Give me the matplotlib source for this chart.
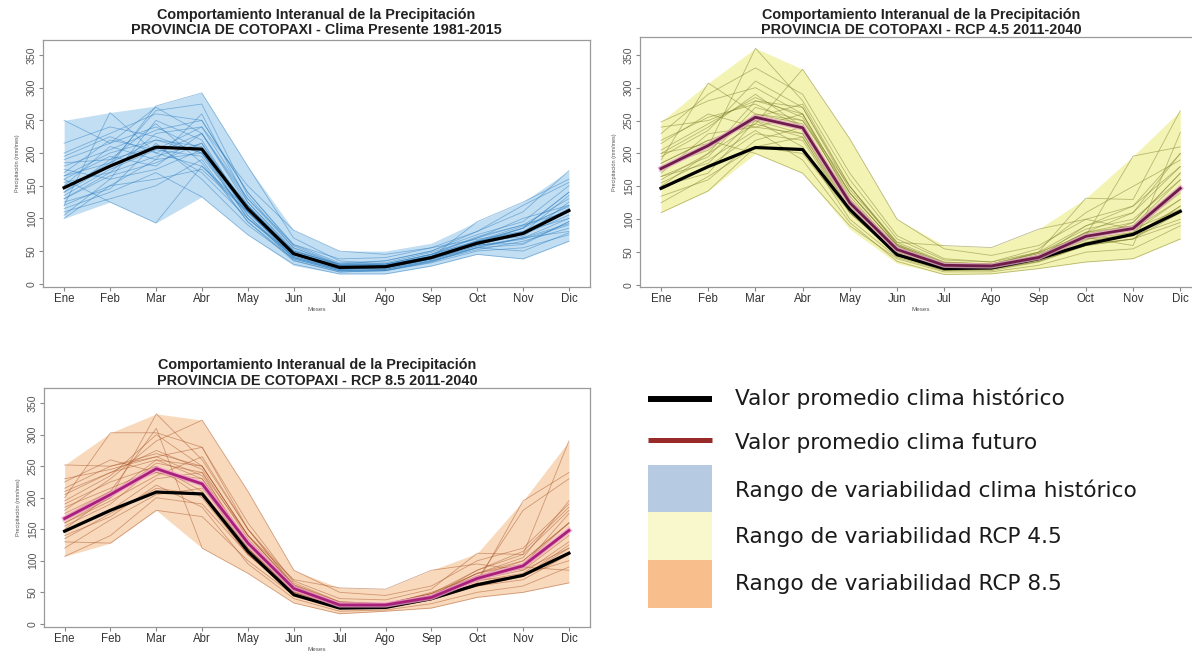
import numpy as np
import matplotlib
matplotlib.use('Agg')
import matplotlib.pyplot as plt
from matplotlib.patches import Rectangle

meses = ['Ene', 'Feb', 'Mar', 'Abr', 'May', 'Jun', 'Jul', 'Ago', 'Sep', 'Oct', 'Nov', 'Dic']

# promedios (mm/mes)
hist_media = [147, 180, 209, 206, 115, 46, 25, 26, 40, 62, 77, 112]
rcp45_media = [177, 212, 255, 239, 125, 54, 30, 29, 42, 74, 86, 147]
rcp85_media = [167, 205, 246, 222, 128, 56, 30, 30, 42, 72, 92, 148]

# rangos de variabilidad
hist_sup = [250, 262, 272, 292, 180, 82, 50, 50, 62, 95, 125, 173]
hist_inf = [100, 125, 93, 133, 75, 28, 15, 15, 27, 45, 38, 65]
rcp45_sup = [248, 307, 360, 328, 222, 100, 60, 57, 85, 132, 196, 265]
rcp45_inf = [110, 143, 200, 170, 85, 33, 16, 17, 25, 35, 40, 70]
rcp85_sup = [252, 303, 333, 323, 210, 85, 57, 55, 85, 112, 195, 290]
rcp85_inf = [107, 128, 180, 120, 80, 33, 16, 20, 25, 42, 50, 65]

# series anuales / modelos
hist_series = [
    [250, 215, 240, 205, 120, 50, 30, 28, 42, 60, 75, 110],
    [120, 262, 200, 230, 130, 55, 28, 30, 45, 70, 90, 130],
    [160, 125, 93, 180, 110, 40, 22, 24, 38, 55, 60, 95],
    [140, 180, 272, 292, 180, 70, 35, 30, 45, 65, 85, 120],
    [100, 150, 190, 200, 100, 40, 20, 20, 35, 55, 70, 100],
    [200, 230, 260, 250, 140, 60, 32, 35, 50, 75, 95, 150],
    [185, 190, 210, 170, 100, 45, 24, 22, 38, 58, 70, 80],
    [130, 170, 230, 240, 150, 82, 50, 45, 55, 80, 110, 173],
    [115, 140, 170, 133, 75, 30, 15, 15, 27, 45, 38, 65],
    [165, 200, 220, 210, 120, 48, 26, 28, 42, 65, 80, 115],
    [150, 210, 190, 260, 125, 52, 28, 30, 40, 60, 75, 105],
    [175, 160, 250, 220, 110, 42, 22, 25, 38, 62, 85, 140],
    [110, 130, 150, 190, 95, 35, 18, 20, 32, 50, 55, 75],
    [195, 225, 200, 180, 115, 50, 30, 32, 48, 70, 100, 120],
    [145, 185, 265, 275, 135, 55, 30, 30, 45, 72, 90, 110],
    [135, 175, 205, 195, 105, 40, 22, 22, 36, 58, 68, 90],
    [160, 195, 180, 230, 120, 45, 25, 28, 42, 65, 72, 125],
    [125, 145, 215, 160, 90, 38, 20, 22, 35, 52, 65, 85],
    [180, 205, 235, 250, 140, 58, 30, 35, 50, 80, 120, 155],
    [105, 160, 175, 205, 100, 42, 24, 25, 38, 60, 62, 95],
    [215, 240, 225, 200, 120, 48, 26, 27, 40, 62, 78, 110],
    [155, 170, 195, 215, 115, 46, 25, 26, 40, 95, 125, 160],
    [140, 190, 245, 185, 95, 38, 20, 20, 33, 55, 50, 78],
    [170, 220, 205, 240, 130, 60, 38, 40, 55, 68, 80, 100],
    [120, 150, 160, 175, 110, 44, 26, 24, 38, 60, 78, 135],
    [190, 215, 270, 230, 125, 50, 28, 28, 44, 66, 88, 118],
    [130, 165, 185, 215, 105, 36, 18, 20, 34, 56, 70, 92],
    [165, 185, 220, 200, 110, 45, 24, 26, 40, 64, 85, 140],
]

rcp45_series = [
    [248, 280, 300, 260, 140, 60, 32, 30, 45, 80, 95, 170],
    [110, 143, 210, 200, 110, 45, 22, 22, 35, 60, 70, 120],
    [190, 307, 260, 250, 150, 65, 35, 32, 48, 85, 100, 160],
    [175, 210, 360, 280, 160, 70, 38, 35, 50, 90, 110, 200],
    [160, 200, 245, 328, 222, 100, 55, 45, 60, 100, 120, 180],
    [200, 240, 290, 240, 130, 55, 30, 28, 42, 75, 85, 140],
    [145, 180, 230, 220, 110, 48, 25, 25, 38, 65, 80, 130],
    [230, 290, 330, 290, 170, 75, 40, 35, 55, 110, 150, 190],
    [185, 220, 200, 170, 90, 40, 20, 20, 30, 50, 55, 90],
    [165, 195, 270, 250, 140, 60, 32, 30, 45, 80, 90, 150],
    [215, 260, 240, 260, 130, 55, 30, 30, 44, 75, 196, 210],
    [150, 170, 250, 210, 100, 42, 22, 24, 36, 60, 70, 110],
    [240, 250, 280, 270, 150, 62, 34, 32, 50, 132, 130, 265],
    [170, 230, 240, 230, 120, 50, 28, 26, 40, 70, 80, 145],
    [135, 160, 220, 240, 130, 58, 32, 30, 45, 78, 90, 160],
    [195, 235, 310, 270, 145, 65, 60, 57, 85, 100, 85, 130],
    [180, 205, 260, 245, 125, 50, 26, 26, 40, 72, 60, 232],
    [155, 190, 235, 190, 95, 36, 16, 17, 25, 35, 40, 70],
    [205, 245, 285, 255, 135, 55, 30, 28, 42, 80, 110, 180],
    [125, 165, 210, 225, 115, 45, 24, 24, 38, 64, 75, 100],
    [220, 255, 275, 240, 125, 52, 28, 28, 42, 90, 120, 200],
    [165, 185, 255, 275, 150, 62, 34, 32, 48, 70, 75, 120],
    [185, 220, 245, 225, 110, 46, 25, 26, 40, 68, 95, 170],
    [150, 200, 280, 260, 140, 60, 30, 30, 50, 75, 85, 115],
    [200, 215, 250, 230, 115, 48, 26, 24, 36, 62, 70, 95],
]

rcp85_series = [
    [252, 250, 270, 250, 140, 60, 32, 30, 45, 75, 100, 160],
    [107, 140, 200, 190, 110, 48, 25, 25, 38, 60, 75, 120],
    [200, 303, 303, 280, 160, 65, 35, 32, 48, 85, 110, 180],
    [160, 200, 333, 260, 150, 60, 32, 30, 45, 80, 95, 150],
    [180, 230, 290, 323, 210, 85, 50, 45, 60, 100, 120, 190],
    [130, 128, 180, 170, 100, 45, 24, 25, 38, 60, 70, 110],
    [210, 240, 260, 230, 130, 55, 30, 30, 42, 75, 90, 150],
    [170, 210, 310, 120, 80, 33, 16, 20, 25, 42, 50, 65],
    [190, 225, 250, 210, 120, 50, 28, 28, 40, 70, 85, 140],
    [145, 180, 230, 240, 140, 62, 35, 32, 48, 80, 100, 160],
    [225, 260, 240, 220, 115, 48, 26, 26, 38, 65, 195, 240],
    [155, 190, 250, 200, 110, 50, 27, 28, 40, 68, 80, 130],
    [230, 245, 265, 280, 150, 68, 40, 38, 55, 112, 110, 290],
    [175, 210, 240, 230, 125, 55, 30, 30, 44, 72, 88, 145],
    [120, 165, 205, 215, 130, 56, 30, 30, 44, 76, 92, 175],
    [195, 235, 300, 250, 140, 70, 57, 55, 85, 95, 85, 120],
    [165, 200, 255, 240, 120, 50, 28, 28, 42, 70, 180, 230],
    [140, 170, 220, 185, 95, 40, 20, 22, 32, 50, 60, 90],
    [205, 240, 275, 245, 135, 58, 32, 30, 45, 80, 105, 195],
    [135, 175, 215, 205, 110, 46, 25, 26, 40, 64, 78, 100],
    [215, 250, 265, 235, 130, 55, 30, 30, 44, 85, 115, 185],
    [160, 195, 235, 265, 150, 62, 34, 32, 48, 70, 75, 125],
    [185, 215, 245, 220, 120, 52, 28, 28, 42, 72, 95, 160],
    [150, 205, 260, 250, 140, 60, 30, 30, 50, 75, 90, 85],
]

leyenda_textos = ['Valor promedio clima histórico', 'Valor promedio clima futuro',
                  'Rango de variabilidad clima histórico', 'Rango de variabilidad RCP 4.5',
                  'Rango de variabilidad RCP 8.5']

W, H = 1192, 654
FUENTE = ['Liberation Sans', 'DejaVu Sans']


def caja(izq, der, arriba, abajo):
    # rectangulo en pixeles -> fracciones de figura
    return [izq / W, 1 - abajo / H, (der - izq) / W, (abajo - arriba) / H]


def dibujar_panel(fig, pos, series, sup, inf, relleno, color_lineas,
                  titulo, y_titulo, xlim, ylim, media_fut=None, color_fut=None, halo_fut=None):
    ax = fig.add_axes(caja(*pos))
    x = np.arange(len(meses))

    ax.fill_between(x, inf, sup, color=relleno, alpha=0.7, lw=0, zorder=1)
    for s in series:
        ax.plot(x, s, color=color_lineas, lw=0.6, alpha=0.5, zorder=2)

    ax.plot(x, hist_media, color='black', lw=2.3, zorder=4)
    if media_fut is not None:
        ax.plot(x, media_fut, color=halo_fut, lw=3.8, alpha=0.8, zorder=5)
        ax.plot(x, media_fut, color=color_fut, lw=2.0, zorder=6)

    ax.set_xlim(*xlim)
    ax.set_ylim(*ylim)
    ax.set_xticks(x)
    ax.set_xticklabels(meses, fontsize=8.3, family=FUENTE, color='#333333')
    ax.set_yticks(np.arange(0, 351, 50))
    ax.set_yticklabels([str(v) for v in range(0, 351, 50)], fontsize=7.6,
                       family=FUENTE, color='#555555', rotation=90, va='center')
    ax.tick_params(direction='out', length=3, width=0.8, color='#888888', pad=1.5)
    for sp in ax.spines.values():
        sp.set_color('#9a9a9a')
        sp.set_linewidth(0.9)
    ax.set_xlabel('Meses', fontsize=4.5, family=FUENTE, color='#555555', labelpad=1.5)
    ax.set_ylabel('Precipitación (mm/mes)', fontsize=4, family=FUENTE, color='#555555', labelpad=5)

    cx = (pos[0] + min(pos[1], 1202)) / 2
    for linea, yy in zip(titulo, y_titulo):
        fig.text(cx / W, 1 - yy / H, linea, ha='center', va='center',
                 fontsize=10.4, fontweight='bold', family=FUENTE, color='#222222')
    return ax


fig = plt.figure(figsize=(W / 100, H / 100), dpi=100)
fig.patch.set_facecolor('white')

tit1 = 'Comportamiento Interanual de la Precipitación'

dibujar_panel(fig, (43, 590, 40, 287), hist_series, hist_sup, hist_inf,
              '#a8d0ef', '#2f7fc0',
              (tit1, 'PROVINCIA DE COTOPAXI - Clima Presente 1981-2015'), (15, 30),
              (-0.46, 11.46), (-5, 373))

dibujar_panel(fig, (640, 1202, 37, 287), rcp45_series, rcp45_sup, rcp45_inf,
              '#efef94', '#7d7d28',
              (tit1, 'PROVINCIA DE COTOPAXI - RCP 4.5 2011-2040'), (15, 30),
              (-0.445, 11.46), (-3, 377),
              media_fut=rcp45_media, color_fut='#6e1d48', halo_fut='#e3a3c8')

dibujar_panel(fig, (44, 590, 388, 627), rcp85_series, rcp85_sup, rcp85_inf,
              '#f7caa0', '#a8552a',
              (tit1, 'PROVINCIA DE COTOPAXI - RCP 8.5 2011-2040'), (365, 381),
              (-0.45, 11.46), (-5, 374),
              media_fut=rcp85_media, color_fut='#a8207a', halo_fut='#f0a0d0')

# leyenda dibujada a mano en coordenadas de pixel
lg = fig.add_axes([0, 0, 1, 1])
lg.set_xlim(0, W)
lg.set_ylim(H, 0)
lg.axis('off')
lg.plot([648, 712], [399, 399], color='black', lw=4.3, solid_capstyle='butt')
lg.plot([648, 712], [440, 440], color='#982a2a', lw=3.6, solid_capstyle='butt')
for y0, col in zip([465, 512, 560], ['#b6cae2', '#f9f8cd', '#f8bf8c']):
    lg.add_patch(Rectangle((648, y0), 64, 48, facecolor=col, edgecolor='none'))
for t, yy in zip(leyenda_textos, [398, 443, 490, 537, 584]):
    lg.text(735, yy, t, ha='left', va='center', fontsize=15.6,
            family='DejaVu Sans', color='#1a1a1a')

fig.savefig('out.png', dpi=100)
